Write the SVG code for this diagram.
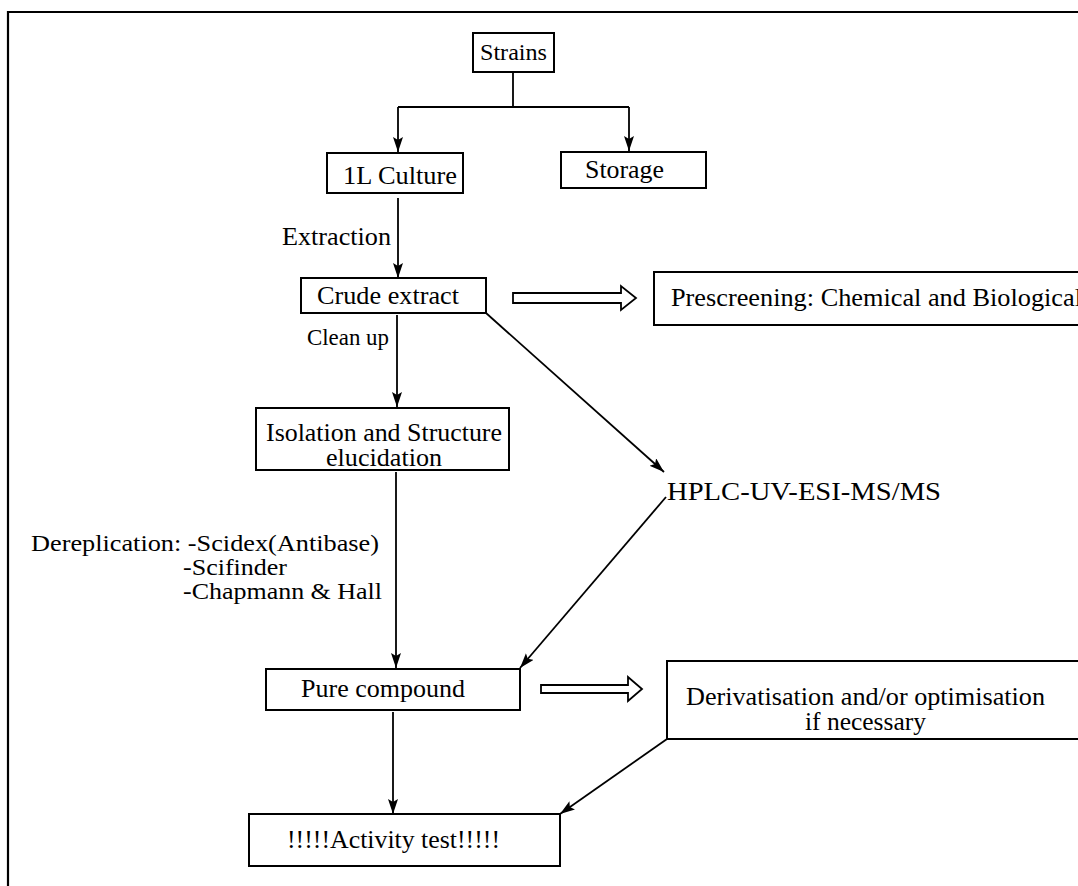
<svg xmlns="http://www.w3.org/2000/svg" width="1078" height="886" viewBox="0 0 1078 886">
<style>
  .box { fill: #fff; stroke: #000; stroke-width: 2; }
  .t { font-family: "Liberation Serif", "Times New Roman", serif; font-size: 25px; fill: #000; }
  .s { font-size: 23px; }
  .m { font-size: 24px; }
  .c { fill: none; stroke: #000; stroke-width: 1.8; }
  .hollow { fill: #fff; stroke: #000; stroke-width: 1.8; stroke-linejoin: miter; }
</style>
<defs>
  <marker id="ah" markerUnits="userSpaceOnUse" markerWidth="16" markerHeight="12" refX="15" refY="5" orient="auto" viewBox="0 0 16 12">
    <path d="M0,0 L15,5 L0,10 L3,5 Z" fill="#000"/>
  </marker>
</defs>
<rect width="1078" height="886" fill="#fff"/>
<path d="M8,886 V12 H1078" fill="none" stroke="#000" stroke-width="2.2"/>

<g id="connectors">
  <path class="c" d="M513,72 V107 M398,107 H629"/>
  <path class="c" d="M398,107 V152" marker-end="url(#ah)"/>
  <path class="c" d="M629,107 V151" marker-end="url(#ah)"/>
  <path class="c" d="M398,198 V278" marker-end="url(#ah)"/>
  <path class="c" d="M397,315 V407" marker-end="url(#ah)"/>
  <path class="c" d="M486,313 L664,472" marker-end="url(#ah)"/>
  <path class="c" d="M396,472 V668" marker-end="url(#ah)"/>
  <path class="c" d="M666,497 L520,668" marker-end="url(#ah)"/>
  <path class="c" d="M393,712 V814" marker-end="url(#ah)"/>
  <path class="c" d="M667,739 L560,814" marker-end="url(#ah)"/>
  <polygon class="hollow" points="513,293 621,293 621,286 636,298 621,310 621,303 513,303"/>
  <polygon class="hollow" points="541,685 628,685 628,677 642,689 628,701 628,693 541,693"/>
</g>

<g id="strains">
  <rect class="box" x="473" y="33" width="81" height="39"/>
  <text class="t s" x="480" y="60" textLength="67" lengthAdjust="spacingAndGlyphs">Strains</text>
</g>
<g id="culture">
  <rect class="box" x="327" y="153" width="136" height="40"/>
  <text class="t" x="343" y="184" textLength="114" lengthAdjust="spacingAndGlyphs">1L Culture</text>
</g>
<g id="storage">
  <rect class="box" x="561" y="152" width="145" height="36"/>
  <text class="t" x="585" y="178" textLength="79" lengthAdjust="spacingAndGlyphs">Storage</text>
</g>
<g id="extraction-label">
  <text class="t" x="282" y="245" textLength="109" lengthAdjust="spacingAndGlyphs">Extraction</text>
</g>
<g id="crude">
  <rect class="box" x="301" y="278" width="185" height="35"/>
  <text class="t" x="317" y="304" textLength="142" lengthAdjust="spacingAndGlyphs">Crude extract</text>
</g>
<g id="prescreening">
  <rect class="box" x="654" y="272" width="440" height="53"/>
  <text class="t" x="671" y="306" textLength="411" lengthAdjust="spacingAndGlyphs">Prescreening: Chemical and Biological</text>
</g>
<g id="cleanup-label">
  <text class="t s" x="307" y="345" textLength="82" lengthAdjust="spacingAndGlyphs">Clean up</text>
</g>
<g id="isolation">
  <rect class="box" x="256" y="408" width="253" height="62"/>
  <text class="t" x="266" y="441" textLength="236" lengthAdjust="spacingAndGlyphs">Isolation and Structure</text>
  <text class="t" x="326" y="466" textLength="116" lengthAdjust="spacingAndGlyphs">elucidation</text>
</g>
<g id="hplc">
  <text class="t" x="667" y="500" textLength="274" lengthAdjust="spacingAndGlyphs">HPLC-UV-ESI-MS/MS</text>
</g>
<g id="dereplication-label">
  <text class="t m" x="31" y="551" textLength="348" lengthAdjust="spacingAndGlyphs">Dereplication: -Scidex(Antibase)</text>
  <text class="t m" x="183" y="575" textLength="104" lengthAdjust="spacingAndGlyphs">-Scifinder</text>
  <text class="t m" x="183" y="599" textLength="199" lengthAdjust="spacingAndGlyphs">-Chapmann &amp; Hall</text>
</g>
<g id="pure">
  <rect class="box" x="266" y="669" width="254" height="41"/>
  <text class="t" x="301" y="697" textLength="164" lengthAdjust="spacingAndGlyphs">Pure compound</text>
</g>
<g id="derivatisation">
  <rect class="box" x="667" y="661" width="430" height="78"/>
  <text class="t" x="686" y="705" textLength="359" lengthAdjust="spacingAndGlyphs">Derivatisation and/or optimisation</text>
  <text class="t" x="805" y="730" textLength="121" lengthAdjust="spacingAndGlyphs">if necessary</text>
</g>
<g id="activity">
  <rect class="box" x="249" y="814" width="311" height="52"/>
  <text class="t" x="287" y="848" textLength="213" lengthAdjust="spacingAndGlyphs">!!!!!Activity test!!!!!</text>
</g>
</svg>
